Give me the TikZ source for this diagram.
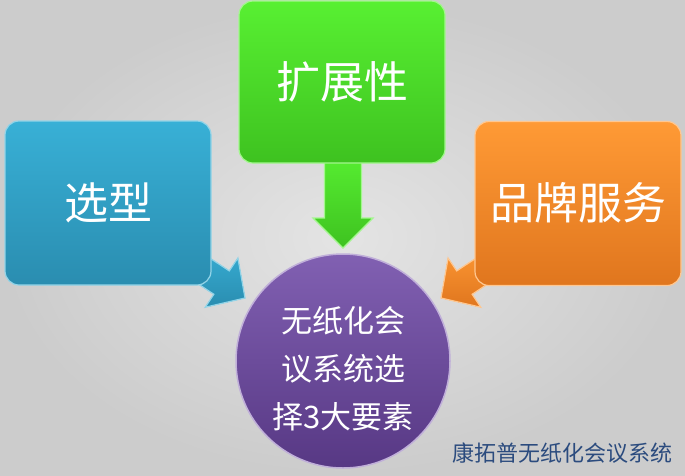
\documentclass[tikz,border=0pt]{standalone}
\usepackage{fontspec}
\newfontfamily\cjk{Noto Sans CJK SC}
\usetikzlibrary{calc}
\definecolor{bgA}{HTML}{E4E4E4}
\definecolor{bgB}{HTML}{CCCCCC}
\definecolor{blueT}{HTML}{38B0D6}
\definecolor{blueB}{HTML}{2A8DB0}
\definecolor{greenT}{HTML}{58F032}
\definecolor{greenB}{HTML}{3EC220}
\definecolor{orangeT}{HTML}{FF9A35}
\definecolor{orangeB}{HTML}{E0761E}
\definecolor{purpT}{HTML}{8160B2}
\definecolor{purpB}{HTML}{573884}
\definecolor{markC}{HTML}{2B4B7E}
\tikzset{
  boxshape/.style={rounded corners=14pt, minimum width=206pt, minimum height=164pt, inner sep=0pt},
  boxlabel/.style={text=white, font=\cjk\fontsize{44}{50}\selectfont},
  bluefill/.style={top color=blueT, bottom color=blueB, draw=blueT!55!white, line width=1.2pt},
  greenfill/.style={top color=greenT, bottom color=greenB, draw=greenT!55!white, line width=1.2pt},
  orangefill/.style={top color=orangeT, bottom color=orangeB, draw=orangeT!55!white, line width=1.2pt},
  arrowline/.style={line width=1.2pt, line join=miter},
}
\begin{document}
\begin{tikzpicture}[x=1pt,y=-1pt]
% background
\shade[inner color=bgA, outer color=bgB] (0,0) rectangle (685,475);
\useasboundingbox (0,0) rectangle (685,475);

% ---- blue callout (left)
\filldraw[bluefill, arrowline] (187.5,243.3) -- (229.3,270.9) -- (237.9,258.0) -- (245,298)
  -- (205.3,307.2) -- (213.9,294.3) -- (172.1,266.7) -- cycle;
\node[boxshape, bluefill] (blue) at (108,203) {};
\node[boxlabel] (bluet) at (108,203) {选型};

% ---- orange callout (right)
\filldraw[orangefill, arrowline] (498.5,243.3) -- (456.7,270.9) -- (448.1,258.0) -- (441,298)
  -- (480.7,307.2) -- (472.1,294.3) -- (513.9,266.7) -- cycle;
\node[boxshape, orangefill] (orange) at (578,203.5) {};
\node[boxlabel] (oranget) at (578,203) {品牌服务};

% ---- green callout (top)
\filldraw[greenfill, arrowline] (324.5,150) -- (361.5,150) -- (361.5,218) -- (373,218)
  -- (343,248) -- (313,218) -- (324.5,218) -- cycle;
\node[boxshape, greenfill, minimum height=162pt] (green) at (342,82) {};
\node[boxlabel] (greent) at (342,82) {扩展性};

% ---- central circle
\node[circle, minimum size=214pt, inner sep=0pt, top color=purpT, bottom color=purpB,
  draw=purpT!50!white, line width=1.5pt] (core) at (343,361) {};
\node[text=white, align=center, font=\cjk\fontsize{31}{48}\selectfont] (coret) at (343,369)
  {无纸化会\\议系统选\\择3大要素};

% ---- watermark
\node[text=markC, font=\cjk\fontsize{22}{24}\selectfont, anchor=east] (mark) at (676,453)
  {康拓普无纸化会议系统};
\end{tikzpicture}
\end{document}
